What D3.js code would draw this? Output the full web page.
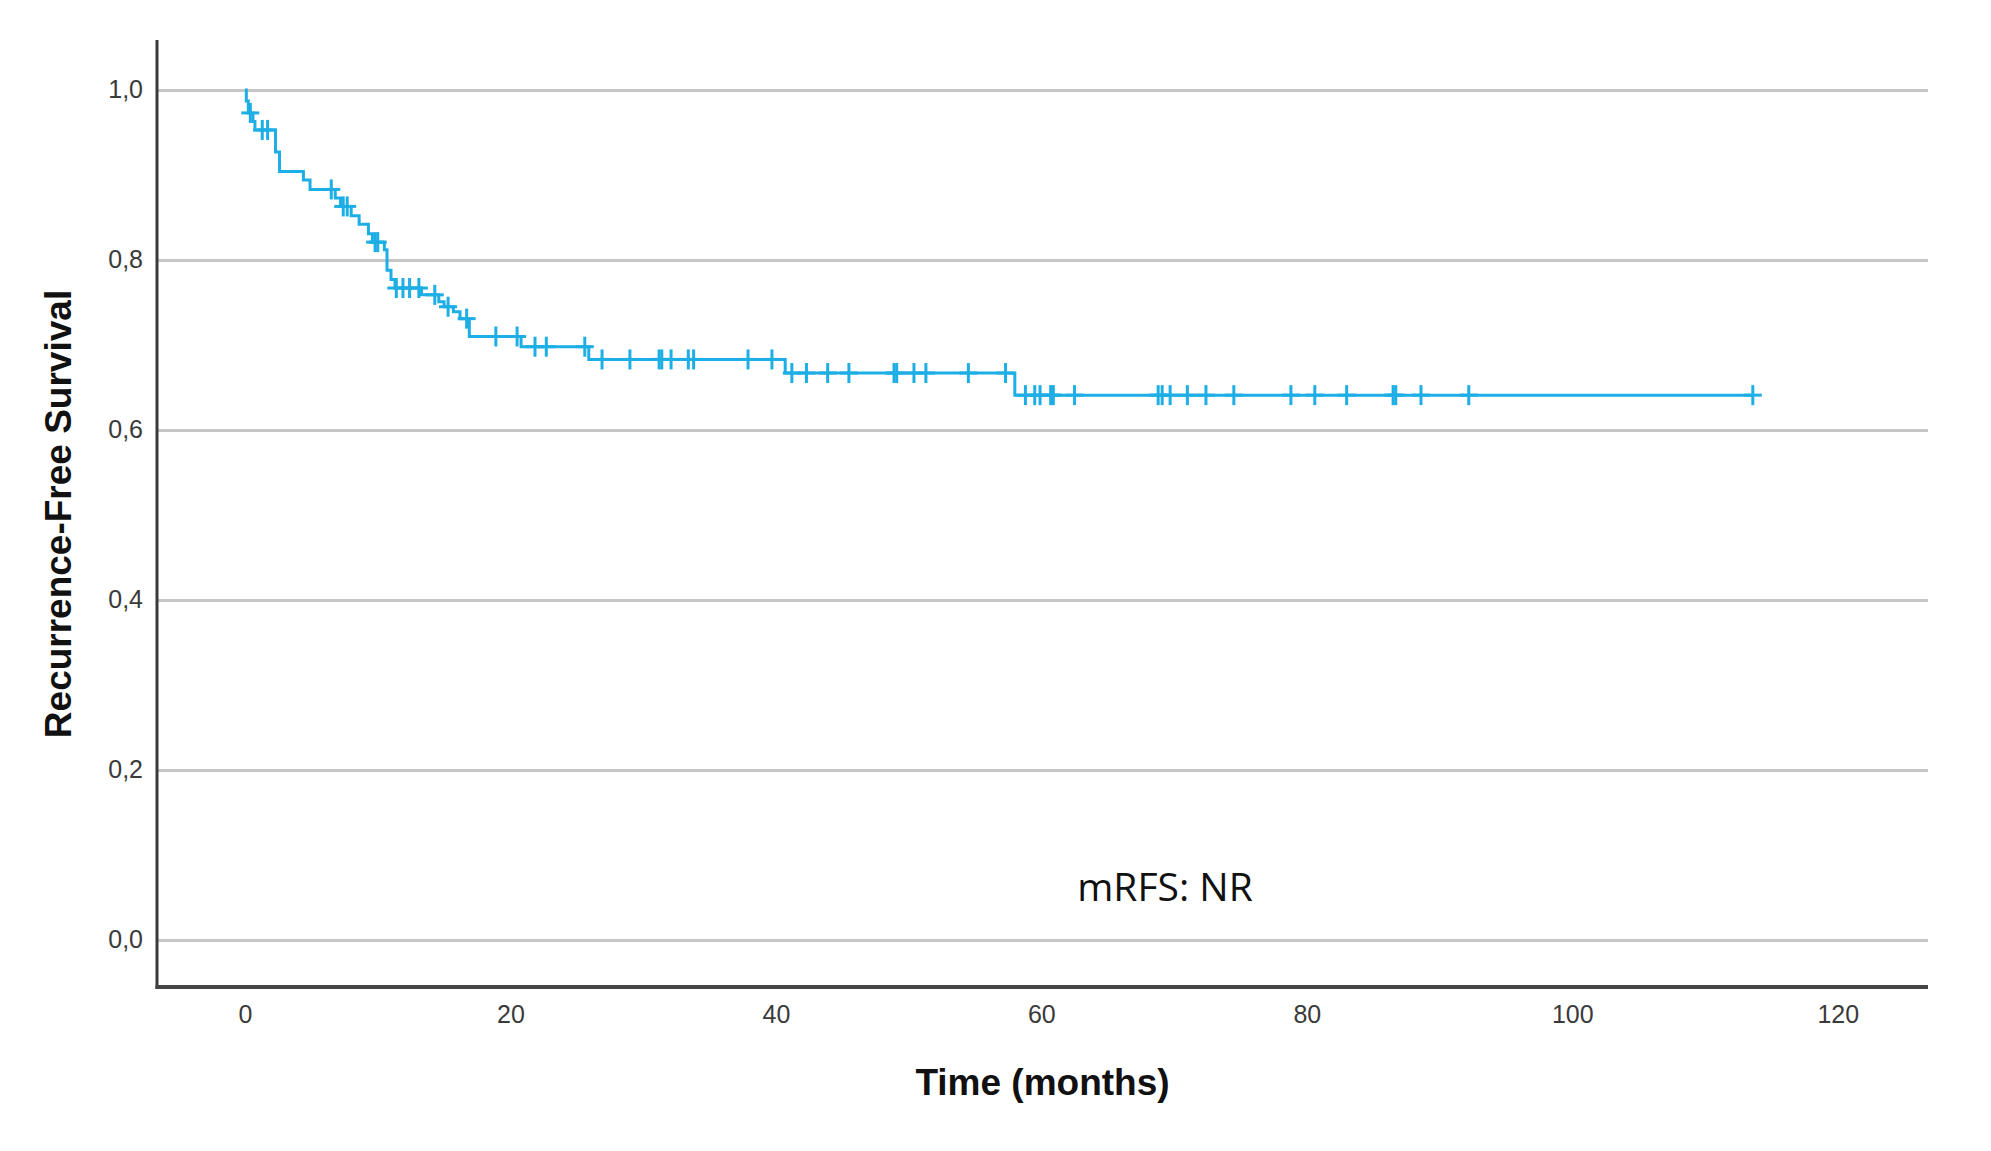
<!DOCTYPE html>
<html>
<head>
<meta charset="utf-8">
<script src="https://cdn.jsdelivr.net/npm/d3@7"></script>
<style>
  html, body { margin: 0; padding: 0; background: #fff; }
  svg { display: block; }
</style>
</head>
<body>
<script>
// ---- Data ----
const stepTimes    = [0, 0.1, 0.25, 0.6, 0.75, 2.3, 2.6, 4.4, 4.9, 6.8, 7.2, 8.0, 8.6, 9.3, 9.6, 10.5, 10.7, 11.0, 11.3, 13.3, 14.6, 15.0, 15.7, 16.2, 16.9, 20.8, 25.9, 40.7, 58.0];
const stepSurvival = [1.0, 0.987, 0.973, 0.963, 0.953, 0.927, 0.904, 0.894, 0.883, 0.873, 0.863, 0.852, 0.842, 0.831, 0.821, 0.812, 0.788, 0.777, 0.767, 0.759, 0.751, 0.745, 0.739, 0.731, 0.710, 0.698, 0.683, 0.667, 0.641];
const censorTimes  = [0.4, 1.3, 1.7, 6.5, 7.4, 7.7, 9.8, 10.0, 11.4, 11.9, 12.4, 13.1, 14.3, 15.3, 16.7, 18.9, 20.5, 21.85, 22.7, 25.6, 26.9, 29.0, 31.2, 31.4, 32.1, 33.4, 33.8, 37.9, 39.7, 41.2, 42.3, 43.9, 45.5, 48.9, 49.1, 50.4, 51.3, 54.5, 57.3, 58.8, 59.5, 59.9, 60.7, 60.9, 62.5, 68.8, 69.1, 69.7, 71.0, 72.4, 74.5, 78.8, 80.6, 83.0, 86.5, 86.7, 88.6, 92.2, 113.6];
const xTicks = [0, 20, 40, 60, 80, 100, 120];
const yTicks = [0, 0.2, 0.4, 0.6, 0.8, 1.0];
const xTitle = "Time (months)";
const yTitle = "Recurrence-Free Survival";
const annotation = "mRFS: NR";

// ---- Layout ----
const W = 1991, H = 1151;
const svg = d3.select("body").append("svg").attr("width", W).attr("height", H);

const x = d3.scaleLinear().domain([-6.63, 126.8]).range([157, 1928]);
const y = d3.scaleLinear().domain([-0.0553, 1.0588]).range([987, 40]);

const fmt = d => d3.format(".1f")(d).replace(".", ",");

// gridlines
const grid = svg.append("g").attr("transform", `translate(${x.range()[0]},0)`)
  .call(d3.axisLeft(y).tickValues(yTicks).tickSize(-(x.range()[1] - x.range()[0])).tickFormat(""));
grid.select(".domain").remove();
grid.selectAll("line").attr("stroke", "#c6c6c6").attr("stroke-width", 3);

// y tick labels
const yAxis = svg.append("g").attr("transform", `translate(${x.range()[0]},0)`)
  .call(d3.axisLeft(y).tickValues(yTicks).tickSize(0).tickPadding(14).tickFormat(fmt));
yAxis.select(".domain").remove();
yAxis.selectAll("text").attr("font-family", "Liberation Sans, Arial, sans-serif")
  .attr("font-size", 25).attr("fill", "#3a3a3a");

// x tick labels
const xAxis = svg.append("g").attr("transform", `translate(0,${y.range()[0]})`)
  .call(d3.axisBottom(x).tickValues(xTicks).tickSize(0).tickPadding(18).tickFormat(d3.format("d")));
xAxis.select(".domain").remove();
xAxis.selectAll("text").attr("font-family", "Liberation Sans, Arial, sans-serif")
  .attr("font-size", 25).attr("fill", "#3a3a3a");

// axis lines
svg.append("line").attr("x1", x.range()[0]).attr("x2", x.range()[0])
  .attr("y1", y.range()[1]).attr("y2", y.range()[0] + 2)
  .attr("stroke", "#3a3a3a").attr("stroke-width", 3);
svg.append("line").attr("x1", x.range()[0] - 1.5).attr("x2", x.range()[1])
  .attr("y1", y.range()[0]).attr("y2", y.range()[0])
  .attr("stroke", "#444").attr("stroke-width", 4);

// KM step line
const steps = stepTimes.map((t, i) => ({ t, s: stepSurvival[i] }));
const lastT = d3.max(censorTimes);
const linePts = steps.concat([{ t: lastT, s: stepSurvival[stepSurvival.length - 1] }]);
const line = d3.line().x(d => x(d.t)).y(d => y(d.s)).curve(d3.curveStepAfter);
const color = "#1eaee6";
svg.append("path").datum(linePts).attr("d", line)
  .attr("fill", "none").attr("stroke", color).attr("stroke-width", 3);

// censor marks
const survAt = t => {
  let s = stepSurvival[0];
  for (let i = 0; i < stepTimes.length; i++) if (stepTimes[i] <= t) s = stepSurvival[i];
  return s;
};
const cens = svg.append("g");
censorTimes.forEach(t => {
  const cx = x(t), cy = y(survAt(t));
  cens.append("line").attr("x1", cx).attr("x2", cx).attr("y1", cy - 10).attr("y2", cy + 10)
    .attr("stroke", color).attr("stroke-width", 3);
  cens.append("line").attr("x1", cx - 9).attr("x2", cx + 9).attr("y1", cy).attr("y2", cy)
    .attr("stroke", color).attr("stroke-width", 3);
});

// titles
svg.append("text").attr("x", (x.range()[0] + x.range()[1]) / 2).attr("y", 1095)
  .attr("text-anchor", "middle").attr("font-family", "Liberation Sans, Arial, sans-serif")
  .attr("font-weight", "bold").attr("font-size", 37).attr("fill", "#111").text(xTitle);
svg.append("text").attr("transform", "translate(71,514) rotate(-90)")
  .attr("text-anchor", "middle").attr("font-family", "Liberation Sans, Arial, sans-serif")
  .attr("font-weight", "bold").attr("font-size", 37).attr("fill", "#111").text(yTitle);

// annotation
svg.append("text").attr("x", 1165).attr("y", 901).attr("text-anchor", "middle")
  .attr("font-family", "Open Sans, Noto Sans, sans-serif").attr("font-size", 39)
  .attr("fill", "#111").text(annotation);
</script>
</body>
</html>
